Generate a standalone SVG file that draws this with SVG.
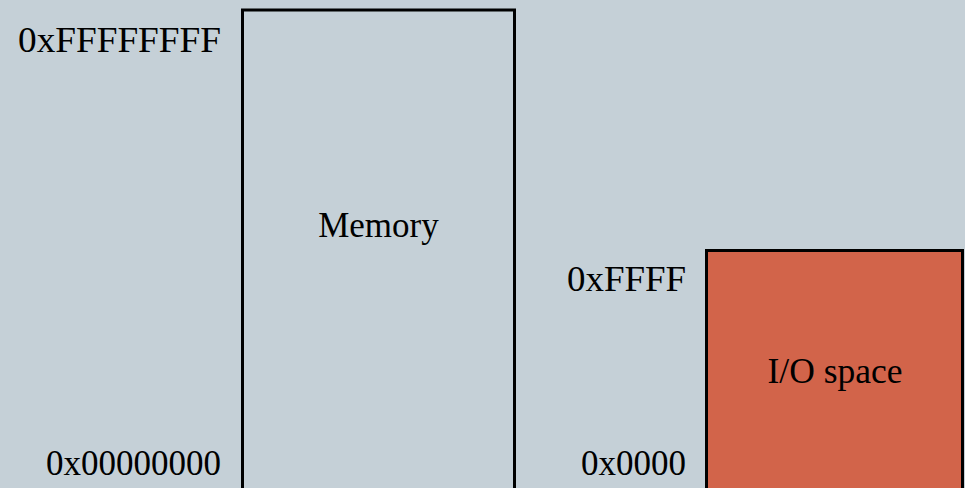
<svg xmlns="http://www.w3.org/2000/svg" width="965" height="488" viewBox="0 0 965 488">
<style>
text{font-family:"Liberation Serif","DejaVu Serif",serif;font-size:35px;fill:#000}
.box{stroke:#000;stroke-width:3}
</style>
<rect width="965" height="488" fill="#c5d0d7"/>
<g id="memory">
<path class="box" d="M242.5,490 V10 H514.5 V490" fill="#c5d0d7"/>
<text x="378.5" y="237" text-anchor="middle">Memory</text>
</g>
<g id="io-space">
<path class="box" d="M706.5,490 V250.5 H962.5 V490" fill="#d2644a"/>
<text x="835" y="383" text-anchor="middle" textLength="135" lengthAdjust="spacingAndGlyphs">I/O space</text>
</g>
<g id="labels">
<text x="221" y="52" text-anchor="end" textLength="203" lengthAdjust="spacingAndGlyphs">0xFFFFFFFF</text>
<text x="221" y="475" text-anchor="end">0x00000000</text>
<text x="686" y="291" text-anchor="end" textLength="119" lengthAdjust="spacingAndGlyphs">0xFFFF</text>
<text x="686" y="475" text-anchor="end">0x0000</text>
</g>
<g id="connectors"/>
</svg>
